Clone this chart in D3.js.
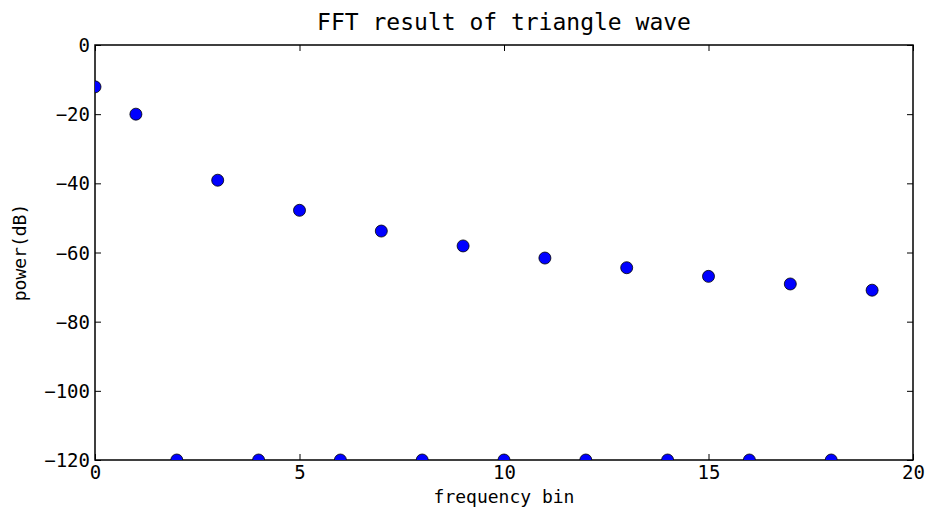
<!DOCTYPE html>
<html><head><meta charset="utf-8">
<script src="https://cdn.jsdelivr.net/npm/d3@7"></script>
<style>body{margin:0;background:#fff}svg{display:block}text{font-family:"DejaVu Sans Mono",monospace;fill:#000}</style>
</head><body>
<script>
const bins = [0,1,2,3,4,5,6,7,8,9,10,11,12,13,14,15,16,17,18,19];
const power = [-12.1,-20.0,-120,-39.1,-120,-47.8,-120,-53.8,-120,-58.1,-120,-61.6,-120,-64.4,-120,-66.9,-120,-69.1,-120,-70.9];
const xTicks = [0,5,10,15,20];
const yTicks = [0,-20,-40,-60,-80,-100,-120];
const title = "FFT result of triangle wave";
const xLabel = "frequency bin";
const yLabel = "power(dB)";

const W=928,H=511;
const m={l:95,r:15,t:45,b:51};
const svg=d3.select("body").append("svg").attr("width",W).attr("height",H);
const x=d3.scaleLinear().domain([0,20]).range([m.l,W-m.r]);
const y=d3.scaleLinear().domain([-120,0]).range([H-m.b,m.t]);
const fmt=d=>String(d).replace("-","\u2212");
const ts=6;

// axes with inward ticks
const gB=svg.append("g").attr("transform",`translate(0,${H-m.b})`).call(d3.axisBottom(x).tickValues(xTicks).tickFormat(fmt).tickSizeInner(-ts).tickSizeOuter(0).tickPadding(6));
const gT=svg.append("g").attr("transform",`translate(0,${m.t})`).call(d3.axisTop(x).tickValues(xTicks).tickFormat("").tickSizeInner(-ts).tickSizeOuter(0));
const gL=svg.append("g").attr("transform",`translate(${m.l},0)`).call(d3.axisLeft(y).tickValues(yTicks).tickFormat(fmt).tickSizeInner(-ts).tickSizeOuter(0).tickPadding(5));
const gR=svg.append("g").attr("transform",`translate(${W-m.r},0)`).call(d3.axisRight(y).tickValues(yTicks).tickFormat("").tickSizeInner(-ts).tickSizeOuter(0));
[gB,gT,gL,gR].forEach(g=>{g.select(".domain").remove();g.selectAll("line").attr("stroke","#000").attr("stroke-width",1);g.selectAll("text").style("font-size","19px").style("font-family","DejaVu Sans Mono");});
gL.selectAll("text").attr("dy","0.35em");

svg.append("rect").attr("x",m.l).attr("y",m.t).attr("width",W-m.r-m.l).attr("height",H-m.b-m.t).attr("fill","none").attr("stroke","#000").attr("stroke-width",1.5);

// points (clipped to the plot area)
svg.append("clipPath").attr("id","clip").append("rect").attr("x",m.l).attr("y",m.t).attr("width",W-m.r-m.l).attr("height",H-m.b-m.t);
svg.append("g").attr("clip-path","url(#clip)").selectAll("circle").data(bins).join("circle")
 .attr("cx",d=>x(d)).attr("cy",(d,i)=>y(power[i])).attr("r",6)
 .attr("fill","#0000ff").attr("stroke","#000").attr("stroke-width",0.8);

svg.append("text").attr("x",(m.l+W-m.r)/2).attr("y",30).attr("text-anchor","middle").style("font-size","23px").text(title);
svg.append("text").attr("x",(m.l+W-m.r)/2).attr("y",503).attr("text-anchor","middle").style("font-size","18px").text(xLabel);
svg.append("text").attr("transform",`translate(26,${(m.t+H-m.b)/2}) rotate(-90)`).attr("text-anchor","middle").style("font-size","18px").text(yLabel);
</script>
</body></html>
